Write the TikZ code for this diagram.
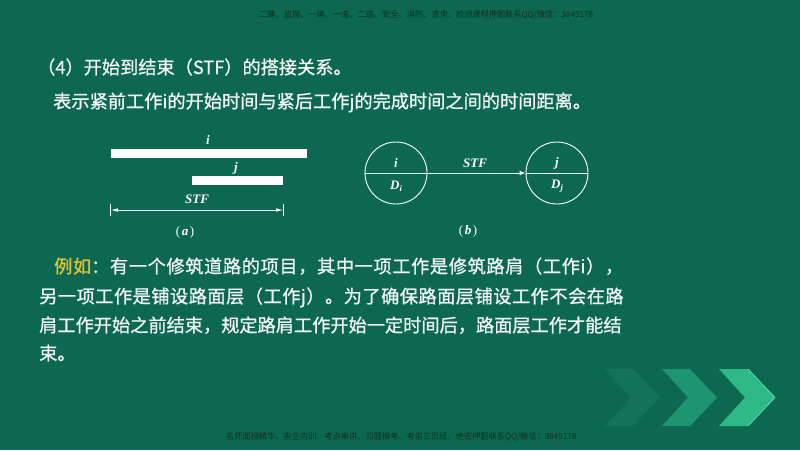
\documentclass[tikz,border=0pt]{standalone}
\usepackage{fontspec}
\setmainfont{Noto Sans CJK SC}
\newfontfamily\cjk[FakeBold=0.8]{Noto Sans CJK SC}
\newfontfamily\cjkwm{Noto Sans CJK SC}
\newfontfamily\cjkla[LetterSpace=3.4,FakeBold=0.8]{Noto Sans CJK SC}
\newfontfamily\cjklb[LetterSpace=2.7,FakeBold=0.8]{Noto Sans CJK SC}
\newfontfamily\tms{Liberation Serif}
\usetikzlibrary{arrows.meta}
\definecolor{bg}{HTML}{0D6851}
\definecolor{yel}{HTML}{E2C22E}
\definecolor{chevA}{HTML}{12735A}
\definecolor{chevB}{HTML}{1E9571}
\definecolor{chevC}{HTML}{2DBA86}
\definecolor{chevEdge}{HTML}{6FE3C0}
\definecolor{wmc}{HTML}{12301F}
\begin{document}
\begin{tikzpicture}[x=1pt,y=-1pt,
  txt/.style={anchor=base west, inner sep=0, text=white!95!bg, font=\cjk\fontsize{18.2}{22}\selectfont},
  lab/.style={inner sep=0, text=white, font=\tms\bfseries\itshape\fontsize{13}{15}\selectfont},
  capt/.style={inner sep=0, text=white, font=\tms\fontsize{13}{15}\selectfont},
  wm/.style={anchor=west, inner sep=0, text=wmc, font=\cjkwm\fontsize{8.2}{10}\selectfont},
  bar/.style={fill=white, draw=none, inner sep=0, minimum height=9pt},
  ln/.style={draw=white, line width=0.8pt},
  evt/.style={circle, draw=white, line width=0.9pt, minimum size=62pt, inner sep=0}
]
\fill[bg] (0,0) rectangle (800,450);
\useasboundingbox (0,0) rectangle (800,450);

% watermarks
\node[wm] (wtop) at (259,15) {二建、监理、一建、一造、二造、安全、消防、咨询、检测课程押题联系QQ/微信：3849178};
\node[wm] (wbot) at (226,437) {名师面授精华、央企内训、考点串讲、习题模考、考前三页纸、绝密押题联系QQ/微信：3849178};

% heading lines
\node[txt] (t1) at (37,74) {（4）开始到结束（STF）的搭接关系。};
\node[txt] (t2) at (53,108) {表示紧前工作i的开始时间与紧后工作j的完成时间之间的时间距离。};

% diagram (a)
\node[bar, minimum width=196pt] (bi) at (209,153.5) {};
\node[bar, minimum width=91pt] (bj) at (237.5,180.5) {};
\node[lab] (li) at (208,140) {i};
\node[lab] (lj) at (236,168) {j};
\coordinate (dl) at (bi.west |- 0,210);
\coordinate (dr) at (bj.east |- 0,210);
\draw[ln] ([yshift=-6pt]dl) -- ([yshift=6pt]dl);
\draw[ln] ([yshift=-6pt]dr) -- ([yshift=6pt]dr);
\draw[ln, {Latex[length=7pt,width=3.5pt]}-{Latex[length=7pt,width=3.5pt]}] (dl) -- (dr);
\node[lab] (lstfa) at (197,199) {STF};
\node[capt] (capa) at (185,232) {(\hspace{1.5pt}\textbf{\textit{a}}\hspace{1.5pt})};

% diagram (b)
\node[evt] (ci) at (396,173) {};
\node[evt] (cj) at (557,173) {};
\draw[ln] (ci.west) -- (ci.east);
\draw[ln, -{Latex[length=6pt,width=4.5pt]}] (ci.east) -- (cj.west);
\draw[ln] (cj.west) -- (cj.east);
\node[lab] (bi1) at (396,163) {i};
\node[lab] (bd1) at (396,186) {D\raisebox{-2.5pt}{\fontsize{8.5}{9}\selectfont i}};
\node[lab] (bj1) at (557,163) {j};
\node[lab] (bd2) at (557,186) {D\raisebox{-2.5pt}{\fontsize{8.5}{9}\selectfont j}};
\node[lab] (lstfb) at (475,163) {STF};
\node[capt] (capb) at (468,231) {(\hspace{1.5pt}\textbf{\textit{b}}\hspace{1.5pt})};

% paragraph
\node[txt, font=\cjkla\fontsize{18.2}{22}\selectfont] (p1) at (54,273) {\textcolor{yel}{例如}：有一个修筑道路的项目，其中一项工作是修筑路肩（工作i），};
\node[txt, font=\cjklb\fontsize{18.2}{22}\selectfont] (p2) at (39,303) {另一项工作是铺设路面层（工作j）。为了确保路面层铺设工作不会在路};
\node[txt] (p3) at (39,332) {肩工作开始之前结束，规定路肩工作开始一定时间后，路面层工作才能结};
\node[txt] (p4) at (39,360) {束。};

% chevrons
\fill[chevA] (605,369) -- (633,369) -- (660,397.5) -- (633,426) -- (605,426) -- (631,397.5) -- cycle;
\fill[chevB] (662,369) -- (690,369) -- (717,397.5) -- (690,426) -- (662,426) -- (688,397.5) -- cycle;
\fill[chevC] (719,369) -- (748,369) -- (775,397.5) -- (748,426) -- (719,426) -- (745,397.5) -- cycle;
\draw[chevEdge, line width=0.6pt] (748,369) -- (775,397.5) -- (748,426);
\end{tikzpicture}
\end{document}
